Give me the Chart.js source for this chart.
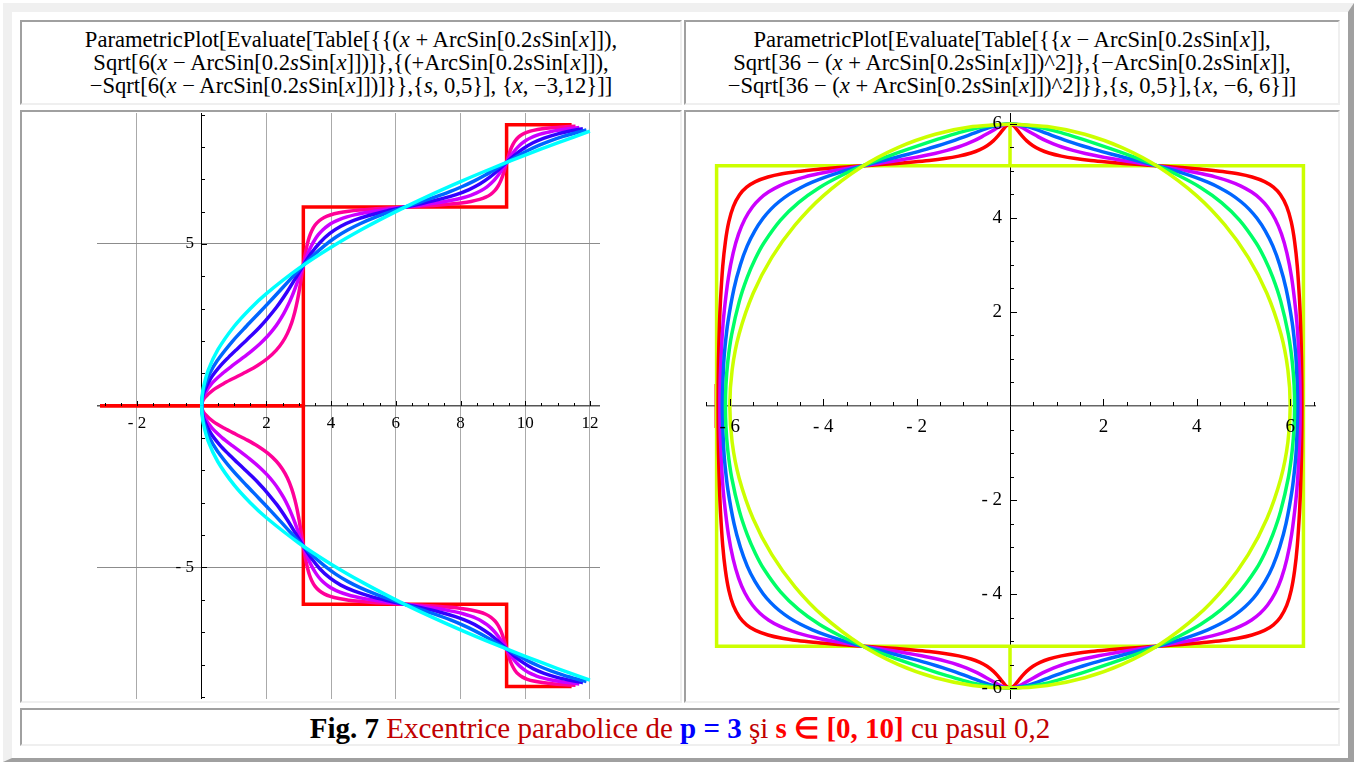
<!DOCTYPE html>
<html>
<head>
<meta charset="utf-8">
<script src="https://cdn.jsdelivr.net/npm/chart.js@4.4.1/dist/chart.umd.min.js"></script>
<style>
  body { margin:0; width:1354px; height:762px; overflow:hidden; background:#fff; font-family:"Liberation Serif", serif; }
  #frame { position:absolute; left:3px; top:3px; width:1351px; height:759px; box-sizing:border-box;
           border-style:solid; border-width:9px 6px 4px 9px; border-color:#f0f0f0 #a0a0a0 #a0a0a0 #f0f0f0; }
  .cell { position:absolute; box-sizing:border-box; border-style:solid; border-width:2px;
          border-color:#a0a0a0 #efefef #efefef #a0a0a0; background:#fff; }
  .title { font-size:22.6px; line-height:23px; text-align:center; padding-top:6px; color:#000; white-space:nowrap; }
  .plot { position:absolute; }
  #caption { font-size:29px; line-height:36px; text-align:center; color:#c00000; white-space:nowrap; }
  .blk { color:#000; font-weight:bold; }
  .blu { color:#0000ff; font-weight:bold; }
  .red { color:#ff0000; font-weight:bold; }
</style>
</head>
<body>
<div id="frame"></div>

<div class="cell title" style="left:20px;top:20px;width:662px;height:85px;">
  ParametricPlot[Evaluate[Table[{{(<i>x</i> + ArcSin[0.2<i>s</i>Sin[<i>x</i>]]),<br>
  Sqrt[6(<i>x</i> − ArcSin[0.2<i>s</i>Sin[<i>x</i>]])]},{(+ArcSin[0.2<i>s</i>Sin[<i>x</i>]]),<br>
  −Sqrt[6(<i>x</i> − ArcSin[0.2<i>s</i>Sin[<i>x</i>]])]}},{<i>s</i>, 0,5}], {<i>x</i>, −3,12}]]
</div>
<div class="cell title" style="left:684px;top:20px;width:656px;height:85px;">
  ParametricPlot[Evaluate[Table[{{<i>x</i> − ArcSin[0.2<i>s</i>Sin[<i>x</i>]],<br>
  Sqrt[36 − (<i>x</i> + ArcSin[0.2<i>s</i>Sin[<i>x</i>]])^2]},{−ArcSin[0.2<i>s</i>Sin[<i>x</i>]],<br>
  −Sqrt[36 − (<i>x</i> + ArcSin[0.2<i>s</i>Sin[<i>x</i>]])^2]}},{<i>s</i>, 0,5}],{<i>x</i>, −6, 6}]]
</div>

<div class="cell" style="left:20px;top:110px;width:662px;height:593px;"></div>
<div class="cell" style="left:684px;top:110px;width:656px;height:593px;"></div>
<div class="plot" style="left:97px;top:113px;"><canvas id="left" width="503" height="586"></canvas></div>
<div class="plot" style="left:706px;top:113px;"><canvas id="right" width="610" height="586"></canvas></div>

<div class="cell" id="caption" style="left:20px;top:708px;width:1320px;height:38px;">
  <span class="blk">Fig. 7</span> Excentrice parabolice de <span class="blu">p = 3</span> şi <span class="red">s ∈ [0, 10]</span> cu pasul 0,2
</div>

<script>
// ==========================
// DATA
// ==========================

// left panel, upper branches [x, y] for s = 0..5 (lower branches are the mirror image)
const leftS0 = [[0,0],[0.01,0.245],[0.05,0.548],[0.2,1.095],[0.5,1.732],[1,2.449],[1.5,3],[2,3.464],[3,4.243],[4,4.899],[5,5.477],[6,6],[7,6.481],[8,6.928],[9,7.348],[10,7.746],[11,8.124],[12,8.485]];
const leftS1 = [[0,0],[0.012,0.219],[0.06,0.49],[0.24,0.981],[0.478,1.39],[0.944,1.984],[1.388,2.465],[1.772,2.866],[2.129,3.244],[2.486,3.631],[2.82,3.998],[3.142,4.342],[3.464,4.66],[3.798,4.951],[4.154,5.213],[4.511,5.43],[4.896,5.624],[5.339,5.811],[5.805,5.981],[6.283,6.14],[6.761,6.295],[7.227,6.453],[7.671,6.616],[8.055,6.776],[8.412,6.944],[8.769,7.133],[9.103,7.327],[9.425,7.52],[9.747,7.708],[10.081,7.888],[10.437,8.054],[10.794,8.197],[11.179,8.326],[11.622,8.454],[11.893,8.523]];
const leftS2 = [[0,0],[0.014,0.19],[0.07,0.424],[0.28,0.85],[0.556,1.209],[0.828,1.494],[1.091,1.748],[1.343,1.985],[1.582,2.215],[1.805,2.443],[1.982,2.637],[2.324,3.059],[2.633,3.508],[2.898,3.938],[3.142,4.342],[3.385,4.71],[3.651,5.039],[3.96,5.324],[4.301,5.545],[4.701,5.726],[5.192,5.886],[5.727,6.02],[6.283,6.14],[6.84,6.258],[7.374,6.384],[7.865,6.527],[8.266,6.682],[8.607,6.86],[8.916,7.071],[9.181,7.295],[9.425,7.52],[9.668,7.739],[9.934,7.943],[10.243,8.127],[10.584,8.273],[10.984,8.396],[11.475,8.506],[11.784,8.561]];
const leftS3 = [[0,0],[0.016,0.155],[0.08,0.346],[0.32,0.695],[0.636,0.993],[0.946,1.236],[1.245,1.46],[1.529,1.681],[1.794,1.908],[2.033,2.146],[2.214,2.359],[2.374,2.58],[2.535,2.844],[2.671,3.11],[2.787,3.373],[2.887,3.63],[2.977,3.878],[3.061,4.115],[3.142,4.342],[3.222,4.557],[3.306,4.761],[3.396,4.952],[3.497,5.13],[3.612,5.294],[3.748,5.442],[3.909,5.572],[4.069,5.669],[4.251,5.753],[4.49,5.836],[4.754,5.906],[5.038,5.964],[5.338,6.014],[5.647,6.059],[5.964,6.101],[6.283,6.14],[6.603,6.179],[6.919,6.22],[7.229,6.263],[7.528,6.311],[7.812,6.366],[8.077,6.43],[8.316,6.504],[8.498,6.578],[8.657,6.66],[8.818,6.767],[8.954,6.883],[9.07,7.006],[9.17,7.133],[9.261,7.262],[9.344,7.391],[9.425,7.52],[9.505,7.646],[9.589,7.769],[9.679,7.888],[9.78,8.001],[9.896,8.107],[10.031,8.204],[10.192,8.291],[10.352,8.357],[10.534,8.414],[10.773,8.471],[11.037,8.519],[11.321,8.56],[11.672,8.6]];
const leftS4 = [[0,0],[0.018,0.11],[0.09,0.245],[0.36,0.492],[0.717,0.707],[1.069,0.888],[1.411,1.064],[1.739,1.253],[2.042,1.467],[2.308,1.718],[2.498,1.965],[2.65,2.236],[2.783,2.569],[2.88,2.902],[2.953,3.222],[3.01,3.527],[3.058,3.814],[3.101,4.086],[3.142,4.342],[3.182,4.583],[3.225,4.812],[3.273,5.026],[3.33,5.227],[3.403,5.411],[3.5,5.577],[3.633,5.718],[3.785,5.817],[3.975,5.895],[4.242,5.962],[4.545,6.011],[4.872,6.047],[5.215,6.076],[5.566,6.099],[5.924,6.12],[6.283,6.14],[6.643,6.16],[7,6.181],[7.352,6.204],[7.694,6.232],[8.022,6.267],[8.325,6.313],[8.591,6.376],[8.781,6.447],[8.933,6.535],[9.066,6.656],[9.163,6.791],[9.236,6.934],[9.294,7.081],[9.342,7.228],[9.384,7.375],[9.425,7.52],[9.465,7.662],[9.508,7.801],[9.556,7.935],[9.614,8.063],[9.686,8.184],[9.783,8.295],[9.917,8.39],[10.068,8.458],[10.258,8.512],[10.525,8.559],[10.828,8.592],[11.155,8.618],[11.556,8.641]];
const leftS5 = [[-3.142,0],[3.142,0],[3.142,6.14],[9.425,6.14],[9.425,8.683],[11.434,8.683]];
const leftColors = ["#00ffff", "#0066ff", "#3300ff", "#cc00ff", "#ff0099", "#ff0000"];

// right panel, upper-right quarter [x, y] from the top (0,6) to the side (x,0), s = 0..4
const rightS0 = [[0,6],[0.8,5.946],[1.6,5.783],[2.4,5.499],[3.2,5.075],[4,4.472],[4.6,3.852],[5.1,3.161],[5.5,2.398],[5.8,1.536],[5.95,0.773],[6,0]];
const rightS1 = [[0,6],[0.322,5.981],[0.656,5.925],[1.013,5.837],[1.369,5.732],[1.754,5.61],[2.198,5.461],[2.664,5.296],[3.142,5.112],[3.62,4.899],[4.086,4.645],[4.529,4.329],[4.914,3.956],[5.271,3.469],[5.452,3.138],[5.627,2.737],[5.796,2.231],[5.961,1.517],[6.042,0.951],[6.083,0.442],[6.094,0]];
const rightS2 = [[0,6],[0.12,5.994],[0.244,5.974],[0.372,5.943],[0.509,5.9],[0.657,5.848],[0.818,5.788],[0.995,5.722],[1.159,5.663],[1.336,5.603],[1.56,5.532],[1.798,5.461],[2.051,5.392],[2.314,5.323],[2.585,5.254],[2.862,5.184],[3.142,5.112],[3.421,5.036],[3.698,4.954],[3.969,4.864],[4.233,4.762],[4.485,4.645],[4.724,4.508],[4.947,4.346],[5.124,4.184],[5.288,3.993],[5.465,3.728],[5.627,3.406],[5.774,3.007],[5.911,2.498],[6.04,1.79],[6.102,1.267],[6.132,0.887],[6.161,0]];
const rightS3 = [[0,6],[0.081,5.992],[0.164,5.966],[0.254,5.925],[0.355,5.869],[0.471,5.802],[0.607,5.726],[0.767,5.645],[0.927,5.577],[1.109,5.51],[1.348,5.438],[1.612,5.373],[1.897,5.314],[2.196,5.26],[2.506,5.209],[2.822,5.16],[3.142,5.112],[3.461,5.061],[3.777,5.007],[4.087,4.946],[4.387,4.876],[4.671,4.791],[4.935,4.685],[5.174,4.552],[5.356,4.41],[5.516,4.235],[5.677,3.98],[5.812,3.661],[5.928,3.258],[6.029,2.74],[6.119,2.027],[6.162,1.518],[6.203,0.659],[6.212,0]];
const rightS4 = [[0,6],[0.04,5.989],[0.083,5.957],[0.131,5.904],[0.189,5.832],[0.262,5.743],[0.359,5.642],[0.492,5.538],[0.644,5.455],[0.833,5.383],[1.1,5.316],[1.403,5.264],[1.73,5.223],[2.073,5.19],[2.425,5.162],[2.782,5.136],[3.142,5.112],[3.501,5.087],[3.858,5.06],[4.21,5.029],[4.553,4.991],[4.88,4.942],[5.183,4.873],[5.45,4.775],[5.64,4.655],[5.791,4.494],[5.925,4.244],[6.022,3.917],[6.094,3.502],[6.152,2.968],[6.2,2.24],[6.222,1.732],[6.243,0.955],[6.251,0]];
// s = 5: the box with its two stubs, drawn whole
const rightS5 = [[0,6],[0,5.112],[6.283,5.112],[6.283,-5.112],[0,-5.112],[0,-6],[0,-5.112],[-6.283,-5.112],[-6.283,5.112],[0,5.112]];
const rightRedMark = [[-6.29,0.47],[-6.29,-0.47]];
const rightColors = ["#ccff00", "#00ff66", "#0066ff", "#cc00ff", "#ff0000", "#ccff00"];

// ticks and labels
const leftXTicks = [-2, 2, 4, 6, 8, 10, 12];
const leftXLabels = ["- 2", "2", "4", "6", "8", "10", "12"];
const leftYTicks = [5, -5];
const leftYLabels = ["5", "- 5"];
const rightXTicks = [-6, -4, -2, 2, 4, 6];
const rightXLabels = ["- 6", "- 4", "- 2", "2", "4", "6"];
const rightYTicks = [6, 4, 2, -2, -4, -6];
const rightYLabels = ["6", "4", "2", "- 2", "- 4", "- 6"];

// ==========================
// HELPERS
// ==========================

function pts(pairs){
  return pairs.map(p => ({x: p[0], y: p[1]}));
}

// the picture is symmetric about the x axis
function flipY(pairs){
  return pairs.map(p => ({x: p[0], y: -p[1]}));
}

// closed loop from one quarter: upper right, lower right, lower left, upper left
function loop(q){
  const out = [];
  q.forEach(p => out.push({x: p[0], y: p[1]}));
  q.slice(0, -1).reverse().forEach(p => out.push({x: p[0], y: -p[1]}));
  q.slice(1).forEach(p => out.push({x: -p[0], y: -p[1]}));
  q.slice(0, -1).reverse().forEach(p => out.push({x: -p[0], y: p[1]}));
  return out;
}

function curve(data, color, tension){
  return {
    data: data,
    showLine: true,
    borderColor: color,
    borderWidth: 3.5,
    pointRadius: 0,
    tension: tension,
    borderCapStyle: "butt",
    borderJoinStyle: "miter"
  };
}

// ==========================
// TICKS + LABELS PLUGIN
// ==========================

const axisMarks = {
  id: "axisMarks",
  afterDatasetsDraw(chart, args, o){
    const ctx = chart.ctx;
    const sx = chart.scales.x;
    const sy = chart.scales.y;
    const px0 = Math.round(sx.getPixelForValue(0));
    const py0 = Math.round(sy.getPixelForValue(0));

    ctx.save();
    ctx.strokeStyle = "#000";
    ctx.lineWidth = 1;
    ctx.beginPath();
    for(let i = Math.ceil(sx.min / o.xStep); i * o.xStep <= sx.max; i++){
      const v = i * o.xStep;
      if(v === 0) continue;
      const len = o.xTicks.includes(v) ? o.major : o.minor;
      const p = Math.round(sx.getPixelForValue(v)) + 0.5;
      ctx.moveTo(p, py0);
      ctx.lineTo(p, py0 - len);
    }
    for(let i = Math.ceil(sy.min / o.yStep); i * o.yStep <= sy.max; i++){
      const v = i * o.yStep;
      if(v === 0) continue;
      const len = o.yTicks.includes(v) ? o.major : o.minor;
      const p = Math.round(sy.getPixelForValue(v)) + 0.5;
      ctx.moveTo(px0, p);
      ctx.lineTo(px0 + len, p);
    }
    ctx.stroke();

    ctx.fillStyle = "#000";
    ctx.font = o.font;
    ctx.textAlign = "center";
    ctx.textBaseline = "alphabetic";
    o.xTicks.forEach((v, i) => {
      ctx.fillText(o.xLabels[i], sx.getPixelForValue(v), py0 + o.xDy);
    });
    ctx.textAlign = "right";
    ctx.textBaseline = "middle";
    o.yTicks.forEach((v, i) => {
      ctx.fillText(o.yLabels[i], px0 - o.yDx, sy.getPixelForValue(v));
    });
    ctx.restore();
  }
};

// ==========================
// LEFT CHART
// ==========================

const leftUpper = [leftS0, leftS1, leftS2, leftS3, leftS4, leftS5];
const leftSets = [];
leftUpper.forEach((c, s) => {
  const t = s === 5 ? 0 : 0.3;
  leftSets.push(curve(pts(c), leftColors[s], t));
  leftSets.push(curve(flipY(c), leftColors[s], t));
});

new Chart(document.getElementById("left"), {
  type: "scatter",
  data: { datasets: leftSets },
  options: {
    responsive: false,
    animation: false,
    events: [],
    layout: { padding: 0 },
    plugins: {
      legend: { display: false },
      tooltip: { enabled: false },
      axisMarks: {
        xStep: 0.5, yStep: 1, major: 5, minor: 3,
        xTicks: leftXTicks, xLabels: leftXLabels,
        yTicks: leftYTicks, yLabels: leftYLabels,
        font: '17px "Liberation Serif"', xDy: 22, yDx: 8
      }
    },
    scales: {
      x: {
        type: "linear", min: -3.236, max: 12.312,
        position: { y: 0 },
        afterBuildTicks: sc => { sc.ticks = leftXTicks.map(v => ({value: v})); },
        ticks: { display: false },
        grid: { color: "#aaaaaa", lineWidth: 1, drawTicks: false },
        border: { display: true, color: "#555555", width: 1.5 }
      },
      y: {
        type: "linear", min: -9.066, max: 9.048,
        position: { x: 0 },
        afterBuildTicks: sc => { sc.ticks = leftYTicks.map(v => ({value: v})); },
        ticks: { display: false },
        grid: { color: "#8c8c8c", lineWidth: 1, drawTicks: false },
        border: { display: true, color: "#000000", width: 1 }
      }
    }
  },
  plugins: [axisMarks]
});

// ==========================
// RIGHT CHART
// ==========================

const rightQuarters = [rightS0, rightS1, rightS2, rightS3, rightS4];
const rightSets = rightQuarters.map((q, s) => curve(loop(q), rightColors[s], 0.3));
rightSets.push(curve(pts(rightS5), rightColors[5], 0));
rightSets.push(curve(pts(rightRedMark), "#ff0000", 0));

new Chart(document.getElementById("right"), {
  type: "scatter",
  data: { datasets: rightSets },
  options: {
    responsive: false,
    animation: false,
    events: [],
    layout: { padding: 0 },
    plugins: {
      legend: { display: false },
      tooltip: { enabled: false },
      axisMarks: {
        xStep: 0.5, yStep: 0.5, major: 7, minor: 4,
        xTicks: rightXTicks, xLabels: rightXLabels,
        yTicks: rightYTicks, yLabels: rightYLabels,
        font: '19px "Liberation Serif"', xDy: 26, yDx: 8
      }
    },
    scales: {
      x: {
        type: "linear", min: -6.51, max: 6.552,
        position: { y: 0 },
        ticks: { display: false },
        grid: { display: false, drawTicks: false },
        border: { display: true, color: "#666666", width: 1.5 }
      },
      y: {
        type: "linear", min: -6.234, max: 6.234,
        position: { x: 0 },
        ticks: { display: false },
        grid: { display: false, drawTicks: false },
        border: { display: true, color: "#000000", width: 1 }
      }
    }
  },
  plugins: [axisMarks]
});
</script>
</body>
</html>
